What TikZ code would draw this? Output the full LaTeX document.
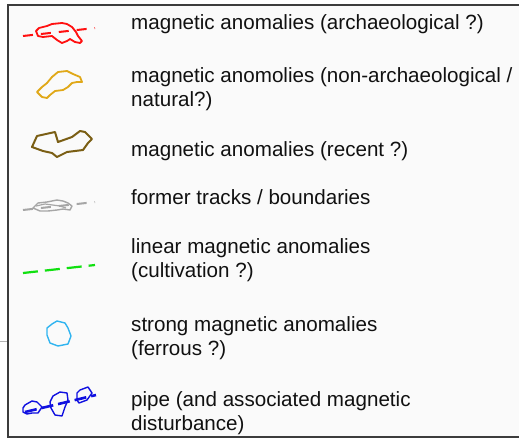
\documentclass[tikz,border=0pt]{standalone}
\usepackage{fontspec}
\setmainfont{Liberation Sans}
\usetikzlibrary{positioning}
\definecolor{ink}      {HTML}{111111}
\definecolor{frameline}{HTML}{3C3C3C}
\definecolor{wash}     {HTML}{FAFAFA}
\definecolor{archred}  {HTML}{FF1010}
\definecolor{natgold}  {HTML}{E0A818}
\definecolor{recbrown} {HTML}{7A5E14}
\definecolor{trackgray}{HTML}{A6A6A6}
\definecolor{cultgreen}{HTML}{10E010}
\definecolor{ferrcyan} {HTML}{30B4F0}
\definecolor{pipeblue} {HTML}{1010E0}

\begin{document}
\begin{tikzpicture}[
  x=1pt, y=-1pt,
  font=\fontsize{20.6}{23.5}\selectfont,
  entry/.style={anchor=base west, align=left, inner sep=0pt, text=ink},
  outline/.style={line width=1.8pt, line join=round},
  dashline/.style={line width=2pt, dash pattern=on 10pt off 8pt}
]
\useasboundingbox (0,0) rectangle (519,442);
\fill[white] (0,0) rectangle (519,442);
\fill[wash] (8,5) rectangle (519,437);
\draw[frameline, line width=2pt] (519,5) -- (8,5) -- (8,437) -- (519,437);
\draw[gray!60, line width=0.8pt] (0,341) -- (7,341);

\node[entry] (arch)    at (131,29)  {magnetic anomalies (archaeological ?)};
\node[entry] (natural) at (131,106) {magnetic anomolies (non-archaeological /\\natural?)};
\node[entry] (recent)  at (131,156) {magnetic anomalies (recent ?)};
\node[entry] (tracks)  at (131,204) {former tracks / boundaries};
\node[entry] (linear)  at (131,277) {linear magnetic anomalies\\(cultivation ?)};
\node[entry] (strong)  at (131,355) {strong magnetic anomalies\\(ferrous ?)};
\node[entry] (pipe)    at (131,430) {pipe (and associated magnetic\\disturbance)};

\draw[archred, outline] (36,31) -- (39,28) -- (47,26) -- (52,24) -- (62,23) -- (67,24) -- (72,27)
  -- (76,32) -- (78,36) -- (82,41) -- (80,43) -- (75,42) -- (70,39) -- (67,41) -- (62,43)
  -- (57,40) -- (52,36) -- (43,37) -- (38,36) -- cycle;
\draw[archred, dashline] (23,36) -- (95,28);

\draw[natgold, outline] (37,92) -- (42,87) -- (47,83) -- (52,77) -- (58,72) -- (67,71) -- (73,74)
  -- (80,77) -- (82,82) -- (77,82) -- (72,83) -- (68,87) -- (63,90) -- (55,91) -- (50,95)
  -- (47,98) -- (42,97) -- cycle;

\draw[recbrown, outline, line width=2pt] (32,147) -- (37,136) -- (55,132) -- (58,142) -- (72,137) -- (80,131)
  -- (85,132) -- (92,139) -- (88,143) -- (83,150) -- (67,152) -- (57,157) -- (52,153)
  -- (43,151) -- cycle;

\draw[trackgray, outline, line width=1.4pt] (33,208) -- (38,203) -- (47,202) -- (57,200) -- (63,201)
  -- (68,203) -- (72,206) -- (70,210) -- (63,209) -- (57,210) -- (48,211) -- (40,211) -- cycle;
\draw[trackgray, line width=1.2pt] (36,206) -- (45,204) -- (60,206) -- (66,208);
\draw[trackgray, dashline] (23,210) -- (95,202);

\draw[cultgreen, line width=2.2pt, dash pattern=on 15pt off 7pt] (23,273) -- (95,265);

\draw[ferrcyan, outline, line width=1.4pt] (57,321) -- (65,323) -- (68,328) -- (71,336) -- (68,344)
  -- (58,346) -- (50,343) -- (47,335) -- (47,328) -- (52,324) -- cycle;

\draw[pipeblue, outline, line width=1.4pt] (23,408) -- (25,405) -- (32,401) -- (37,402) -- (42,407)
  -- (38,413) -- (32,413) -- (27,414) -- (23,412) -- cycle;
\draw[pipeblue, outline, line width=1.4pt] (50,402) -- (53,396) -- (60,392) -- (67,393) -- (68,400)
  -- (65,407) -- (62,416) -- (55,415) -- (51,408) -- cycle;
\draw[pipeblue, outline, line width=1.4pt] (77,393) -- (80,390) -- (88,387) -- (92,393) -- (87,400)
  -- (79,403) -- (77,400) -- cycle;
\draw[pipeblue, line width=2.6pt, dash pattern=on 12pt off 5pt] (25,412) -- (96,395);
\end{tikzpicture}
\end{document}
